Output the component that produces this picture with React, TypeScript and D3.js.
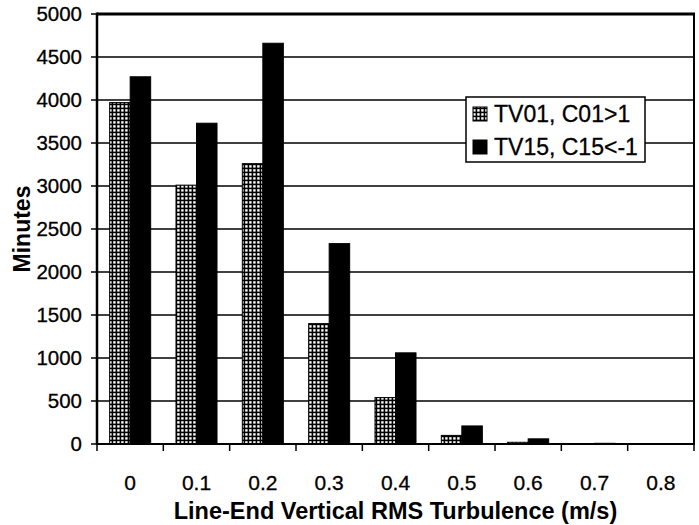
import React from "react";
import * as d3 from "d3";

const categories = ["0", "0.1", "0.2", "0.3", "0.4", "0.5", "0.6", "0.7", "0.8"];
const seriesNames = ["TV01, C01>1", "TV15, C15<-1"];
const tv01 = [3970, 3010, 3260, 1400, 540, 100, 20, 4, 1];
const tv15 = [4270, 3730, 4660, 2330, 1060, 210, 60, 8, 2];
const yTicks = [0, 500, 1000, 1500, 2000, 2500, 3000, 3500, 4000, 4500, 5000];

const W = 699, H = 525;
const left = 97, right = 694, top = 14, bottom = 444;
const FONT = "'Liberation Sans', Arial, sans-serif";

export default function App() {
  const x = d3.scaleBand<string>().domain(categories).range([left, right]).padding(0);
  const inner = d3.scaleBand<string>().domain(seriesNames).range([0, x.bandwidth()]).paddingInner(0).paddingOuter(0.617);
  const y = d3.scaleLinear().domain([0, 5000]).range([bottom, top]);
  const series = [tv01, tv15];
  const fills = ["url(#hatch)", "#000"];

  return (
    <svg width={W} height={H} style={{ position: "absolute", left: 0, top: 0, background: "#fff" }} fontFamily={FONT}>
      <defs>
        <pattern id="hatch" patternUnits="userSpaceOnUse" width={4} height={4}>
          <rect x={0} y={0} width={4} height={4} fill="#000" />
          <rect x={1.2} y={1.2} width={2.4} height={2.4} fill="#fff" />
        </pattern>
      </defs>
      <rect x={0} y={0} width={W} height={H} fill="#fff" />
      {yTicks.slice(1, -1).map((t) => (
        <line key={t} x1={left} x2={right} y1={y(t)} y2={y(t)} stroke="#000" strokeWidth={1.5} />
      ))}
      {series.map((vals, si) =>
        categories.map((c, ci) => {
          const bx = (x(c) as number) + (inner(seriesNames[si]) as number);
          const by = y(vals[ci]);
          return (
            <rect key={`${si}-${ci}`} x={bx} y={by} width={inner.bandwidth()} height={bottom - by}
              fill={fills[si]} stroke="#000" strokeWidth={1} />
          );
        })
      )}
      <line x1={left} x2={right + 1} y1={top} y2={top} stroke="#000" strokeWidth={3} />
      <line x1={right} x2={right} y1={top} y2={bottom} stroke="#000" strokeWidth={2} />
      <line x1={left} x2={left} y1={top - 1.5} y2={bottom + 1} stroke="#000" strokeWidth={2.5} />
      <line x1={left} x2={right + 1} y1={bottom} y2={bottom} stroke="#000" strokeWidth={2} />
      {yTicks.map((t) => (
        <g key={t}>
          <line x1={left - 6} x2={left} y1={y(t)} y2={y(t)} stroke="#000" strokeWidth={1.5} />
          <text x={82} y={y(t)} dy="0.36em" textAnchor="end" fontSize={20.5} fill="#000" stroke="#000" strokeWidth={0.3}>{t}</text>
        </g>
      ))}
      {categories.map((c) => (
        <line key={c} x1={x(c) as number} x2={x(c) as number} y1={bottom} y2={bottom + 7} stroke="#000" strokeWidth={1.5} />
      ))}
      <line x1={right} x2={right} y1={bottom} y2={bottom + 7} stroke="#000" strokeWidth={1.5} />
      {categories.map((c) => (
        <text key={c} x={(x(c) as number) + x.bandwidth() / 2} y={490} textAnchor="middle" fontSize={21} fill="#000" stroke="#000" strokeWidth={0.3}>{c}</text>
      ))}
      <text x={(left + right) / 2} y={519} textAnchor="middle" fontSize={23.5} fontWeight="bold" fill="#000">
        Line-End Vertical RMS Turbulence (m/s)
      </text>
      <text transform={`translate(30,${(top + bottom) / 2}) rotate(-90)`} textAnchor="middle" fontSize={23} fontWeight="bold" fill="#000">
        Minutes
      </text>
      <rect x={466} y={97} width={179} height={65} fill="#fff" stroke="#000" strokeWidth={1.5} />
      {seriesNames.map((s, i) => (
        <g key={s}>
          <rect x={473} y={107 + i * 33} width={14} height={14} fill={fills[i]} stroke="#000" strokeWidth={1} />
          <text x={494} y={114 + i * 33} dy="0.36em" fontSize={23} fill="#000" stroke="#000" strokeWidth={0.3}>{s}</text>
        </g>
      ))}
    </svg>
  );
}
